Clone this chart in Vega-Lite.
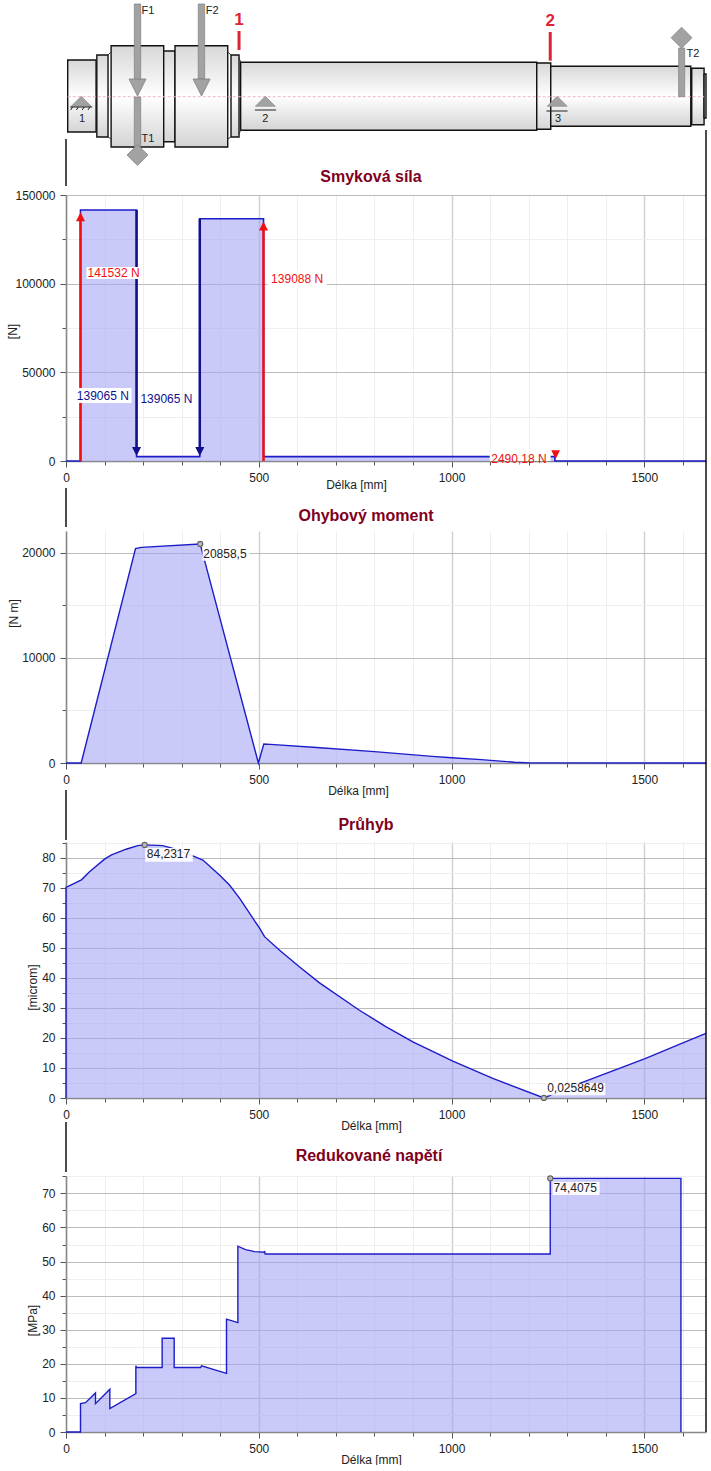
{
"$schema":"https://vega.github.io/schema/vega-lite/v6.json",
"background":"white",
"padding":{"left":6,"top":0,"right":0,"bottom":0},
"config":{"font":"Liberation Sans","view":{"stroke":null},"text":{"fontSize":12}},
"bounds":"flush","spacing":0,
"vconcat":[
{"width":640,"height":195,
 "encoding":{"x":{"field":"x","type":"quantitative","scale":{"domain":[0,1660],"nice":false},"axis":null},"y":{"field":"y","type":"quantitative","scale":{"domain":[0,195],"reverse":true,"nice":false,"zero":false},"axis":null}},
 "layer":[
 {"data":{"values":[{"x":4.4,"x2":78,"y":60,"y2":132},{"x":80,"x2":109,"y":55,"y2":137},{"x":117,"x2":253.4,"y":45.7,"y2":147},{"x":253.4,"x2":282.7,"y":51,"y2":141.7},{"x":282.7,"x2":419.5,"y":45.7,"y2":147},{"x":428,"x2":448.8,"y":55,"y2":137},{"x":453,"x2":1221,"y":62.3,"y2":130.3},{"x":1221,"x2":1257.3,"y":63,"y2":129.3},{"x":1257.3,"x2":1620.5,"y":66.3,"y2":126.3},{"x":1623,"x2":1655,"y":68.3,"y2":124.7},{"x":1655,"x2":1660,"y":74,"y2":118}]},
  "mark":{"type":"rect","stroke":"#111","strokeWidth":1.4,"color":{"gradient":"linear","x1":0,"y1":0,"x2":0,"y2":1,"stops":[{"offset":0,"color":"#d8d8d8"},{"offset":0.5,"color":"#ffffff"},{"offset":1,"color":"#d4d4d4"}]}},
  "encoding":{"x2":{"field":"x2"},"y2":{"field":"y2"}}},
 {"data":{"values":[{"x":109,"x2":117,"y":55,"y2":52},{"x":109,"x2":117,"y":137,"y2":139},{"x":419.5,"x2":428,"y":52,"y2":55},{"x":419.5,"x2":428,"y":139,"y2":137},{"x":448.8,"x2":453,"y":58,"y2":62},{"x":448.8,"x2":453,"y":134,"y2":130}]},
  "mark":{"type":"rule","stroke":"#333","strokeWidth":1},
  "encoding":{"x2":{"field":"x2"},"y2":{"field":"y2"}}},
 {"data":{"values":[{"x":4.4,"x2":1655,"y":96.7,"y2":96.7}]},
  "mark":{"type":"rule","stroke":"#f2b6c4","strokeWidth":1,"strokeDash":[3,2]},
  "encoding":{"x2":{"field":"x2"},"y2":{"field":"y2"}}},
 {"data":{"values":[{"x":177.2,"x2":193.8,"y":4,"y2":80},{"x":177.2,"x2":193.8,"y":97,"y2":147},{"x":343,"x2":359.6,"y":4,"y2":79},{"x":1589,"x2":1604.7,"y":48,"y2":96.7}]},
  "mark":{"type":"rect","fill":"#a2a2a2","stroke":"#808080","strokeWidth":0.7},
  "encoding":{"x2":{"field":"x2"},"y2":{"field":"y2"}}},
 {"data":{"values":[{"x":185.5,"y":87.5},{"x":351.6,"y":87.5}]},
  "mark":{"type":"point","shape":"M-1,-1L1,-1L0,1Z","size":289,"filled":true,"fill":"#a2a2a2","stroke":"#7d7d7d","strokeWidth":0.8,"opacity":1}},
 {"data":{"values":[{"x":185.5,"y":155},{"x":1596.6,"y":37.7}]},
  "mark":{"type":"point","shape":"M0,-1L1,0L0,1L-1,0Z","size":441,"filled":true,"fill":"#a2a2a2","stroke":"#808080","strokeWidth":0.7,"opacity":1}},
 {"data":{"values":[{"x":39.6,"y":101.3},{"x":517,"y":101.3},{"x":1274,"y":101.3}]},
  "mark":{"type":"point","shape":"M0,-0.5L1,0.5L-1,0.5Z","size":400,"filled":true,"fill":"#a2a2a2","stroke":"#808080","strokeWidth":0.6,"opacity":1}},
 {"data":{"values":[{"x":11,"x2":68,"y":107,"y2":107},{"x":490,"x2":545,"y":110,"y2":110},{"x":1246,"x2":1301,"y":111,"y2":111},{"x":17,"x2":12,"y":107,"y2":110},{"x":32,"x2":27,"y":107,"y2":110},{"x":47,"x2":42,"y":107,"y2":110},{"x":62,"x2":57,"y":107,"y2":110}]},
  "mark":{"type":"rule","stroke":"#222","strokeWidth":1},
  "encoding":{"x2":{"field":"x2"},"y2":{"field":"y2"}}},
 {"data":{"values":[{"x":448.8,"x2":448.8,"y":31,"y2":50},{"x":1256,"x2":1256,"y":32,"y2":60.7}]},
  "mark":{"type":"rule","stroke":"#dc2436","strokeWidth":3},
  "encoding":{"x2":{"field":"x2"},"y2":{"field":"y2"}}},
 {"data":{"values":[{"x":0,"x2":0,"y":139,"y2":186},{"x":1660,"x2":1660,"y":130,"y2":195}]},
  "mark":{"type":"rule","stroke":"#000","strokeWidth":1.4},
  "encoding":{"x2":{"field":"x2"},"y2":{"field":"y2"}}},
 {"data":{"values":[{"x":212.7,"y":11,"t":"F1"},{"x":379,"y":11,"t":"F2"},{"x":212.7,"y":139,"t":"T1"},{"x":1626,"y":54,"t":"T2"},{"x":41.5,"y":119,"t":"1"},{"x":517,"y":119,"t":"2"},{"x":1276,"y":119,"t":"3"}]},
  "mark":{"type":"text","fontSize":11,"fill":"#222","align":"center","baseline":"middle"},
  "encoding":{"text":{"field":"t"}}},
 {"data":{"values":[{"x":448.8,"y":20,"t":"1"},{"x":1256,"y":21,"t":"2"}]},
  "mark":{"type":"text","fontSize":17,"fontWeight":"bold","fill":"#dc2436","align":"center","baseline":"middle"},
  "encoding":{"text":{"field":"t"}}}
 ]},
{"width":640,"height":266,
 "title":{"text":"Smyková síla","fontSize":16,"fontWeight":"bold","color":"#800020","anchor":"middle","frame":"group","dx":-15,"offset":4},
 "encoding":{"x":{"field":"x","type":"quantitative","scale":{"domain":[0,1660],"nice":false},
   "axis":{"title":"Délka [mm]","titleFontSize":12,"titleFontWeight":"normal","titleColor":"#222","titleX":290,"titleY":23,"titleBaseline":"middle","values":[0,100,200,300,400,500,600,700,800,900,1000,1100,1200,1300,1400,1500,1600],"format":"d","labelExpr":"datum.value%500===0?datum.label:''","labelFontSize":12,"labelColor":"#222","labelPadding":5,"labelOverlap":false,"labelFlush":false,"grid":true,"gridColor":{"condition":{"test":"datum.value%500===0","value":"#d2d2d2"},"value":"#eeeeee"},"gridWidth":{"condition":{"test":"datum.value%500===0","value":1.5},"value":1},"tickColor":"#555","tickSize":{"condition":{"test":"datum.value%500===0","value":6},"value":4},"domainColor":"#888","domainWidth":1.5}},
  "y":{"field":"y","type":"quantitative","stack":null,"scale":{"domain":[0,150000],"nice":false},
   "axis":{"title":"[N]","titleFontSize":12,"titleFontWeight":"normal","titleColor":"#222","titleX":-54,"titleY":136,"titleAlign":"center","titleBaseline":"middle","titleAngle":270,"values":[0,25000,50000,75000,100000,125000,150000],"format":"d","labelExpr":"datum.value%50000===0?datum.label:''","labelFontSize":12,"labelColor":"#222","labelPadding":5,"labelOverlap":false,"labelFlush":false,"grid":true,"gridColor":{"condition":{"test":"datum.value%50000===0","value":"#bcbcbc"},"value":"#eeeeee"},"gridWidth":1,"tickColor":"#555","tickSize":{"condition":{"test":"datum.value%50000===0","value":6},"value":4},"domainColor":"#888","domainWidth":1.5}}},
 "layer":[
 {"data":{"name":"shear","values":[{"x":0,"y":0},{"x":37.6,"y":0},{"x":37.6,"y":141532},{"x":183,"y":141532},{"x":183,"y":2467},{"x":347,"y":2467},{"x":347,"y":136598},{"x":512.3,"y":136598},{"x":512.3,"y":2490},{"x":1268,"y":2490},{"x":1268,"y":0},{"x":1660,"y":0}]},
  "mark":{"type":"area","fill":"#a4a4f6","opacity":0.58},"encoding":{"order":{"value":null}}},
 {"data":{"name":"shear"},"mark":{"type":"line","stroke":"#1c1cc8","strokeWidth":1.6},"encoding":{"order":{"value":null}}},
 {"data":{"values":[{"x":37.6,"y":0,"y2":138000},{"x":512.3,"y":0,"y2":132500}]},"mark":{"type":"rule","stroke":"#f01010","strokeWidth":2.5},"encoding":{"y2":{"field":"y2"}}},
 {"data":{"values":[{"x":183,"y":141532,"y2":5000},{"x":347,"y":136598,"y2":5000}]},"mark":{"type":"rule","stroke":"#10108c","strokeWidth":2.5},"encoding":{"y2":{"field":"y2"}}},
 {"data":{"values":[{"x":37.6,"y":137800},{"x":512.3,"y":132500}]},"mark":{"type":"point","shape":"M0,-1L1,1L-1,1Z","size":81,"filled":true,"fill":"#f01010","opacity":1}},
 {"data":{"values":[{"x":1270,"y":3600}]},"mark":{"type":"point","shape":"M-1,-1L1,-1L0,1Z","size":76,"filled":true,"fill":"#f01010","opacity":1}},
 {"data":{"values":[{"x":183,"y":5360},{"x":347,"y":5360}]},"mark":{"type":"point","shape":"M-1,-1L1,-1L0,1Z","size":81,"filled":true,"fill":"#10108c","opacity":1}},
 {"data":{"values":[{"x":53,"x2":191,"y":109400,"y2":102630},{"x":27,"x2":170,"y":41160,"y2":32700},{"x":523,"x2":676,"y":107700,"y2":97560},{"x":1099,"x2":1257,"y":5075,"y2":0}]},"mark":{"type":"rect","fill":"#ffffff"},"encoding":{"x2":{"field":"x2"},"y2":{"field":"y2"}}},
 {"data":{"values":[{"x":55.8,"y":106013,"t":"141532 N"},{"x":532,"y":102460,"t":"139088 N"},{"x":1103,"y":1128,"t":"2490,18 N"}]},"mark":{"type":"text","fill":"#f01010","align":"left","baseline":"middle"},"encoding":{"text":{"field":"t"}}},
 {"data":{"values":[{"x":28,"y":36650,"t":"139065 N"},{"x":193,"y":35130,"t":"139065 N"}]},"mark":{"type":"text","fill":"#10108c","align":"left","baseline":"middle"},"encoding":{"text":{"field":"t"}}},
 {"data":{"values":[{"x":1660,"y":0,"y2":150000}]},"mark":{"type":"rule","stroke":"#000","strokeWidth":1.4},"encoding":{"y2":{"field":"y2"}}}
 ]},
{"width":640,"height":70,"data":{"values":[{"x":0,"y":27,"y2":66},{"x":1660,"y":0,"y2":70}]},"mark":{"type":"rule","stroke":"#000","strokeWidth":1.4},
 "encoding":{"x":{"field":"x","type":"quantitative","scale":{"domain":[0,1660],"nice":false},"axis":null},"y":{"field":"y","type":"quantitative","scale":{"domain":[0,70],"reverse":true,"nice":false},"axis":null},"y2":{"field":"y2"}}},
{"width":640,"height":232,
 "title":{"text":"Ohybový moment","fontSize":16,"fontWeight":"bold","color":"#800020","anchor":"middle","frame":"group","dx":-20,"offset":6},
 "encoding":{"x":{"field":"x","type":"quantitative","scale":{"domain":[0,1660],"nice":false},
   "axis":{"title":"Délka [mm]","titleFontSize":12,"titleFontWeight":"normal","titleColor":"#222","titleX":292,"titleY":27,"titleBaseline":"middle","values":[0,100,200,300,400,500,600,700,800,900,1000,1100,1200,1300,1400,1500,1600],"format":"d","labelExpr":"datum.value%500===0?datum.label:''","labelFontSize":12,"labelColor":"#222","labelPadding":5,"labelOverlap":false,"labelFlush":false,"grid":true,"gridColor":{"condition":{"test":"datum.value%500===0","value":"#d2d2d2"},"value":"#eeeeee"},"gridWidth":{"condition":{"test":"datum.value%500===0","value":1.5},"value":1},"tickColor":"#555","tickSize":{"condition":{"test":"datum.value%500===0","value":6},"value":4},"domainColor":"#888","domainWidth":1.5}},
  "y":{"field":"y","type":"quantitative","stack":null,"scale":{"domain":[0,22090],"nice":false},
   "axis":{"title":"[N m]","titleFontSize":12,"titleFontWeight":"normal","titleColor":"#222","titleX":-53,"titleY":82,"titleAlign":"center","titleBaseline":"middle","titleAngle":270,"values":[0,5000,10000,15000,20000],"format":"d","labelExpr":"datum.value%10000===0?datum.label:''","labelFontSize":12,"labelColor":"#222","labelPadding":5,"labelOverlap":false,"labelFlush":false,"grid":true,"gridColor":{"condition":{"test":"datum.value%10000===0","value":"#bcbcbc"},"value":"#eeeeee"},"gridWidth":1,"tickColor":"#555","tickSize":{"condition":{"test":"datum.value%10000===0","value":6},"value":4},"domainColor":"#888","domainWidth":1.5}}},
 "layer":[
 {"data":{"name":"moment","values":[{"x":0,"y":0},{"x":39.4,"y":0},{"x":180.3,"y":20410},{"x":195,"y":20530},{"x":348,"y":20858.5},{"x":499,"y":0},{"x":513,"y":1810},{"x":530,"y":1770},{"x":650,"y":1480},{"x":800,"y":1080},{"x":950,"y":630},{"x":1000,"y":500},{"x":1077,"y":320},{"x":1163,"y":70},{"x":1205,"y":10},{"x":1660,"y":0}]},
  "mark":{"type":"area","fill":"#a4a4f6","opacity":0.58},"encoding":{"order":{"value":null}}},
 {"data":{"name":"moment"},"mark":{"type":"line","stroke":"#1c1cc8","strokeWidth":1.4},"encoding":{"order":{"value":null}}},
 {"data":{"values":[{"x":354,"x2":476,"y":20600,"y2":19267}]},"mark":{"type":"rect","fill":"#ffffff","opacity":0.9},"encoding":{"x2":{"field":"x2"},"y2":{"field":"y2"}}},
 {"data":{"values":[{"x":356,"y":19934,"t":"20858,5"}]},"mark":{"type":"text","fill":"#222","align":"left","baseline":"middle"},"encoding":{"text":{"field":"t"}}},
 {"data":{"values":[{"x":348,"y":20858.5}]},"mark":{"type":"point","size":26,"filled":true,"fill":"#bbbbbb","stroke":"#666","strokeWidth":1.2,"opacity":1}},
 {"data":{"values":[{"x":1660,"y":0,"y2":22090}]},"mark":{"type":"rule","stroke":"#000","strokeWidth":1.4},"encoding":{"y2":{"field":"y2"}}}
 ]},
{"width":640,"height":79,"data":{"values":[{"x":0,"y":27,"y2":77},{"x":1660,"y":0,"y2":79}]},"mark":{"type":"rule","stroke":"#000","strokeWidth":1.4},
 "encoding":{"x":{"field":"x","type":"quantitative","scale":{"domain":[0,1660],"nice":false},"axis":null},"y":{"field":"y","type":"quantitative","scale":{"domain":[0,79],"reverse":true,"nice":false},"axis":null},"y2":{"field":"y2"}}},
{"width":640,"height":256,
 "title":{"text":"Průhyb","fontSize":16,"fontWeight":"bold","color":"#800020","anchor":"middle","frame":"group","dx":-20,"offset":4},
 "encoding":{"x":{"field":"x","type":"quantitative","scale":{"domain":[0,1660],"nice":false},
   "axis":{"title":"Délka [mm]","titleFontSize":12,"titleFontWeight":"normal","titleColor":"#222","titleX":305,"titleY":27,"titleBaseline":"middle","values":[0,100,200,300,400,500,600,700,800,900,1000,1100,1200,1300,1400,1500,1600],"format":"d","labelExpr":"datum.value%500===0?datum.label:''","labelFontSize":12,"labelColor":"#222","labelPadding":5,"labelOverlap":false,"labelFlush":false,"grid":true,"gridColor":{"condition":{"test":"datum.value%500===0","value":"#d2d2d2"},"value":"#eeeeee"},"gridWidth":{"condition":{"test":"datum.value%500===0","value":1.5},"value":1},"tickColor":"#555","tickSize":{"condition":{"test":"datum.value%500===0","value":6},"value":4},"domainColor":"#888","domainWidth":1.5}},
  "y":{"field":"y","type":"quantitative","stack":null,"scale":{"domain":[0,85.2],"nice":false},
   "axis":{"title":"[microm]","titleFontSize":12,"titleFontWeight":"normal","titleColor":"#222","titleX":-34,"titleY":145,"titleAlign":"center","titleBaseline":"middle","titleAngle":270,"values":[0,5,10,15,20,25,30,35,40,45,50,55,60,65,70,75,80,85],"format":"d","labelExpr":"datum.value%10===0?datum.label:''","labelFontSize":12,"labelColor":"#222","labelPadding":5,"labelOverlap":false,"labelFlush":false,"grid":true,"gridColor":{"condition":{"test":"datum.value%10===0","value":"#bcbcbc"},"value":"#eeeeee"},"gridWidth":1,"tickColor":"#555","tickSize":{"condition":{"test":"datum.value%10===0","value":6},"value":4},"domainColor":"#888","domainWidth":1.5}}},
 "layer":[
 {"data":{"name":"deflection","values":[{"x":0,"y":0},{"x":0,"y":70.1},{"x":40,"y":72.6},{"x":61,"y":75.3},{"x":100,"y":79.5},{"x":118,"y":80.9},{"x":156,"y":82.8},{"x":186,"y":84},{"x":204,"y":84.2317},{"x":251,"y":84},{"x":277,"y":83.1},{"x":329,"y":80.6},{"x":355,"y":79.2},{"x":398,"y":74.2},{"x":424,"y":70.9},{"x":450,"y":66.5},{"x":476,"y":61.5},{"x":502,"y":56.5},{"x":515,"y":53.7},{"x":554,"y":49.2},{"x":606,"y":43.6},{"x":657.6,"y":38.3},{"x":761,"y":29.2},{"x":830.6,"y":23.7},{"x":899.7,"y":18.7},{"x":1003.4,"y":12.3},{"x":1107,"y":6.5},{"x":1239.5,"y":0.0258649},{"x":1300,"y":3.3},{"x":1502,"y":13.1},{"x":1622,"y":19.5},{"x":1660,"y":21.5}]},
  "mark":{"type":"area","fill":"#a4a4f6","opacity":0.58},"encoding":{"order":{"value":null}}},
 {"data":{"name":"deflection"},"mark":{"type":"line","stroke":"#1c1cc8","strokeWidth":1.4},"encoding":{"order":{"value":null}}},
 {"data":{"values":[{"x":205.5,"x2":329,"y":83.2,"y2":78.6},{"x":1244,"x2":1399,"y":5,"y2":0.9}]},"mark":{"type":"rect","fill":"#ffffff","opacity":0.9},"encoding":{"x2":{"field":"x2"},"y2":{"field":"y2"}}},
 {"data":{"values":[{"x":209.6,"y":81.1,"t":"84,2317"},{"x":1248,"y":3.3,"t":"0,0258649"}]},"mark":{"type":"text","fill":"#222","align":"left","baseline":"middle"},"encoding":{"text":{"field":"t"}}},
 {"data":{"values":[{"x":204,"y":84.2317},{"x":1239.5,"y":0.0258649}]},"mark":{"type":"point","size":26,"filled":true,"fill":"#bbbbbb","stroke":"#666","strokeWidth":1.2,"opacity":1}},
 {"data":{"values":[{"x":1660,"y":0,"y2":85.2}]},"mark":{"type":"rule","stroke":"#000","strokeWidth":1.4},"encoding":{"y2":{"field":"y2"}}}
 ]},
{"width":640,"height":78,"data":{"values":[{"x":0,"y":24,"y2":74},{"x":1660,"y":0,"y2":78}]},"mark":{"type":"rule","stroke":"#000","strokeWidth":1.4},
 "encoding":{"x":{"field":"x","type":"quantitative","scale":{"domain":[0,1660],"nice":false},"axis":null},"y":{"field":"y","type":"quantitative","scale":{"domain":[0,78],"reverse":true,"nice":false},"axis":null},"y2":{"field":"y2"}}},
{"width":640,"height":256,
 "title":{"text":"Redukované napětí","fontSize":16,"fontWeight":"bold","color":"#800020","anchor":"middle","frame":"group","dx":-17,"offset":6},
 "encoding":{"x":{"field":"x","type":"quantitative","scale":{"domain":[0,1660],"nice":false},
   "axis":{"title":"Délka [mm]","titleFontSize":12,"titleFontWeight":"normal","titleColor":"#222","titleX":305,"titleY":27,"titleBaseline":"middle","values":[0,100,200,300,400,500,600,700,800,900,1000,1100,1200,1300,1400,1500,1600],"format":"d","labelExpr":"datum.value%500===0?datum.label:''","labelFontSize":12,"labelColor":"#222","labelPadding":5,"labelOverlap":false,"labelFlush":false,"grid":true,"gridColor":{"condition":{"test":"datum.value%500===0","value":"#d2d2d2"},"value":"#eeeeee"},"gridWidth":{"condition":{"test":"datum.value%500===0","value":1.5},"value":1},"tickColor":"#555","tickSize":{"condition":{"test":"datum.value%500===0","value":6},"value":4},"domainColor":"#888","domainWidth":1.5}},
  "y":{"field":"y","type":"quantitative","stack":null,"scale":{"domain":[0,75.1],"nice":false},
   "axis":{"title":"[MPa]","titleFontSize":12,"titleFontWeight":"normal","titleColor":"#222","titleX":-34,"titleY":144,"titleAlign":"center","titleBaseline":"middle","titleAngle":270,"values":[0,5,10,15,20,25,30,35,40,45,50,55,60,65,70,75],"format":"d","labelExpr":"datum.value%10===0?datum.label:''","labelFontSize":12,"labelColor":"#222","labelPadding":5,"labelOverlap":false,"labelFlush":false,"grid":true,"gridColor":{"condition":{"test":"datum.value%10===0","value":"#bcbcbc"},"value":"#eeeeee"},"gridWidth":1,"tickColor":"#555","tickSize":{"condition":{"test":"datum.value%10===0","value":6},"value":4},"domainColor":"#888","domainWidth":1.5}}},
 "layer":[
 {"data":{"name":"stress","values":[{"x":0,"y":0},{"x":37.6,"y":0},{"x":37.6,"y":8.32},{"x":50.6,"y":8.6},{"x":76.5,"y":11.45},{"x":76.5,"y":8.32},{"x":113.7,"y":12.53},{"x":113.7,"y":6.85},{"x":181.2,"y":11.25},{"x":181.2,"y":19.4},{"x":182.9,"y":18.9},{"x":249.4,"y":18.9},{"x":249.4,"y":27.5},{"x":280.6,"y":27.5},{"x":280.6,"y":18.9},{"x":348.9,"y":18.9},{"x":351.5,"y":19.4},{"x":416.3,"y":17.2},{"x":416.3,"y":33.1},{"x":445.8,"y":32.1},{"x":445.8,"y":54.5},{"x":465.6,"y":53.5},{"x":489,"y":52.9},{"x":515,"y":52.75},{"x":515,"y":53.1},{"x":516.6,"y":52.2},{"x":1256,"y":52.2},{"x":1256,"y":74.4075},{"x":1595,"y":74.4075},{"x":1595,"y":0}]},
  "mark":{"type":"area","fill":"#a4a4f6","opacity":0.58},"encoding":{"order":{"value":null}}},
 {"data":{"name":"stress"},"mark":{"type":"line","stroke":"#1c1cc8","strokeWidth":1.4},"encoding":{"order":{"value":null}}},
 {"data":{"values":[{"x":1262,"x2":1384,"y":73.4,"y2":69.5}]},"mark":{"type":"rect","fill":"#ffffff","opacity":0.9},"encoding":{"x2":{"field":"x2"},"y2":{"field":"y2"}}},
 {"data":{"values":[{"x":1264.6,"y":71.6,"t":"74,4075"}]},"mark":{"type":"text","fill":"#222","align":"left","baseline":"middle"},"encoding":{"text":{"field":"t"}}},
 {"data":{"values":[{"x":1256,"y":74.4075}]},"mark":{"type":"point","size":26,"filled":true,"fill":"#bbbbbb","stroke":"#666","strokeWidth":1.2,"opacity":1}},
 {"data":{"values":[{"x":1660,"y":0,"y2":75.1}]},"mark":{"type":"rule","stroke":"#000","strokeWidth":1.4},"encoding":{"y2":{"field":"y2"}}}
 ]}
]}
